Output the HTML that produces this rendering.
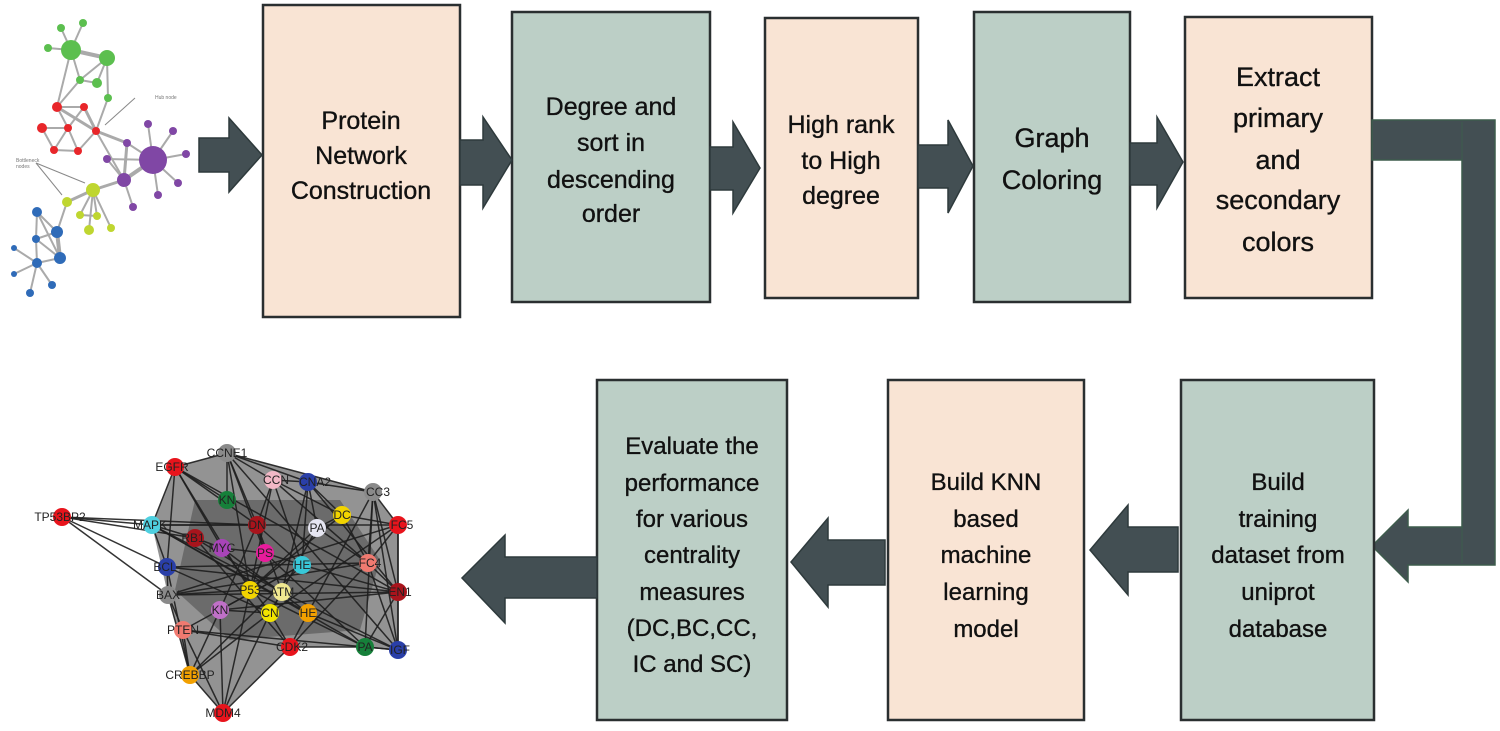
<!DOCTYPE html>
<html><head><meta charset="utf-8"><style>
html,body{margin:0;padding:0;background:#fff;}
svg{display:block;}
.t{font-family:"Liberation Sans",sans-serif;fill:#111;text-anchor:middle;stroke:#111;stroke-width:0.35;}
.a{fill:#434f53;stroke:#2e3a3c;stroke-width:1.5;}
.bx{stroke:#2a2f30;stroke-width:2.5;}
.pe{fill:#f9e4d4;}
.gr{fill:#bccfc6;}
.e1 line{stroke:#aaa;stroke-width:2;}
.e2 line{stroke:#1e1e1e;stroke-width:1.5;opacity:.9;}
.nl{font-family:"Liberation Sans",sans-serif;font-size:12px;fill:#222;text-anchor:middle;}
.nd circle{r:9;}
</style></head><body>
<svg width="1500" height="731" viewBox="0 0 1500 731" xmlns="http://www.w3.org/2000/svg">
<!-- top-left network -->
<g class="e1">
<line x1="71" y1="50" x2="107" y2="58" style="stroke-width:4"/>
<line x1="71" y1="50" x2="48" y2="48"/><line x1="71" y1="50" x2="61" y2="28"/><line x1="71" y1="50" x2="83" y2="23"/>
<line x1="71" y1="50" x2="80" y2="80"/><line x1="71" y1="50" x2="57" y2="107"/><line x1="107" y1="58" x2="80" y2="80"/>
<line x1="107" y1="58" x2="97" y2="83"/><line x1="107" y1="58" x2="108" y2="98"/><line x1="80" y1="80" x2="97" y2="83"/>
<line x1="108" y1="98" x2="96" y2="131"/><line x1="80" y1="80" x2="57" y2="107"/>
<line x1="57" y1="107" x2="84" y2="107"/><line x1="57" y1="107" x2="68" y2="128"/><line x1="57" y1="107" x2="96" y2="131" style="stroke-width:3"/>
<line x1="84" y1="107" x2="68" y2="128"/><line x1="84" y1="107" x2="96" y2="131" style="stroke-width:3"/>
<line x1="42" y1="128" x2="68" y2="128"/><line x1="42" y1="128" x2="54" y2="150"/><line x1="68" y1="128" x2="54" y2="150"/>
<line x1="68" y1="128" x2="78" y2="151"/><line x1="54" y1="150" x2="78" y2="151"/><line x1="96" y1="131" x2="78" y2="151"/>
<line x1="96" y1="131" x2="127" y2="143" style="stroke-width:3"/><line x1="96" y1="131" x2="124" y2="180"/>
<line x1="153" y1="160" x2="124" y2="180" style="stroke-width:4"/><line x1="153" y1="160" x2="148" y2="124"/>
<line x1="153" y1="160" x2="173" y2="131"/><line x1="153" y1="160" x2="186" y2="154"/><line x1="153" y1="160" x2="178" y2="183"/>
<line x1="153" y1="160" x2="158" y2="195"/><line x1="153" y1="160" x2="127" y2="143"/><line x1="153" y1="160" x2="107" y2="159"/>
<line x1="127" y1="143" x2="124" y2="180" style="stroke-width:3"/><line x1="107" y1="159" x2="124" y2="180"/>
<line x1="124" y1="180" x2="133" y2="207"/><line x1="124" y1="180" x2="93" y2="190" style="stroke-width:3"/>
<line x1="93" y1="190" x2="67" y2="202" style="stroke-width:3"/><line x1="93" y1="190" x2="80" y2="215"/><line x1="93" y1="190" x2="97" y2="216"/>
<line x1="93" y1="190" x2="89" y2="230"/><line x1="93" y1="190" x2="111" y2="228"/><line x1="80" y1="215" x2="97" y2="216"/>
<line x1="67" y1="202" x2="57" y2="232"/><line x1="57" y1="232" x2="37" y2="212"/><line x1="57" y1="232" x2="36" y2="239"/>
<line x1="57" y1="232" x2="60" y2="258" style="stroke-width:4"/><line x1="37" y1="212" x2="36" y2="239"/><line x1="37" y1="212" x2="60" y2="258"/>
<line x1="36" y1="239" x2="60" y2="258"/><line x1="36" y1="239" x2="37" y2="263"/><line x1="60" y1="258" x2="37" y2="263"/>
<line x1="37" y1="263" x2="14" y2="248"/><line x1="37" y1="263" x2="14" y2="274"/><line x1="37" y1="263" x2="30" y2="293"/>
<line x1="37" y1="263" x2="52" y2="285"/>
<line x1="105" y1="125" x2="135" y2="98" style="stroke-width:1;stroke:#888"/>
<line x1="36" y1="163" x2="85" y2="183" style="stroke-width:1;stroke:#888"/>
<line x1="36" y1="163" x2="62" y2="195" style="stroke-width:1;stroke:#888"/>
</g>
<g>
<circle cx="71" cy="50" r="10" fill="#5cbf4f"/><circle cx="107" cy="58" r="8" fill="#5cbf4f"/>
<circle cx="48" cy="48" r="4" fill="#5cbf4f"/><circle cx="61" cy="28" r="4" fill="#5cbf4f"/><circle cx="83" cy="23" r="4" fill="#5cbf4f"/>
<circle cx="80" cy="80" r="4" fill="#5cbf4f"/><circle cx="97" cy="83" r="5" fill="#5cbf4f"/><circle cx="108" cy="98" r="4" fill="#5cbf4f"/>
<circle cx="57" cy="107" r="5" fill="#e8262a"/><circle cx="84" cy="107" r="4" fill="#e8262a"/><circle cx="42" cy="128" r="5" fill="#e8262a"/>
<circle cx="68" cy="128" r="4" fill="#e8262a"/><circle cx="96" cy="131" r="4" fill="#e8262a"/><circle cx="54" cy="150" r="4" fill="#e8262a"/>
<circle cx="78" cy="151" r="4" fill="#e8262a"/>
<circle cx="153" cy="160" r="14" fill="#8047a5"/><circle cx="124" cy="180" r="7" fill="#8047a5"/><circle cx="127" cy="143" r="4" fill="#8047a5"/>
<circle cx="107" cy="159" r="4" fill="#8047a5"/><circle cx="148" cy="124" r="4" fill="#8047a5"/><circle cx="173" cy="131" r="4" fill="#8047a5"/>
<circle cx="186" cy="154" r="4" fill="#8047a5"/><circle cx="178" cy="183" r="4" fill="#8047a5"/><circle cx="158" cy="195" r="4" fill="#8047a5"/>
<circle cx="133" cy="207" r="4" fill="#8047a5"/>
<circle cx="93" cy="190" r="7" fill="#bfd630"/><circle cx="67" cy="202" r="5" fill="#bfd630"/><circle cx="80" cy="215" r="4" fill="#bfd630"/>
<circle cx="97" cy="216" r="4" fill="#bfd630"/><circle cx="89" cy="230" r="5" fill="#bfd630"/><circle cx="111" cy="228" r="4" fill="#bfd630"/>
<circle cx="37" cy="212" r="5" fill="#2f6bb8"/><circle cx="57" cy="232" r="6" fill="#2f6bb8"/><circle cx="36" cy="239" r="4" fill="#2f6bb8"/>
<circle cx="60" cy="258" r="6" fill="#2f6bb8"/><circle cx="37" cy="263" r="5" fill="#2f6bb8"/><circle cx="14" cy="248" r="3" fill="#2f6bb8"/>
<circle cx="14" cy="274" r="3" fill="#2f6bb8"/><circle cx="30" cy="293" r="4" fill="#2f6bb8"/><circle cx="52" cy="285" r="4" fill="#2f6bb8"/>
<text x="155" y="99" style="font-family:'Liberation Sans',sans-serif;font-size:5px;fill:#777">Hub node</text>
<text x="16" y="162" style="font-family:'Liberation Sans',sans-serif;font-size:5px;fill:#777">Bottleneck</text>
<text x="16" y="168" style="font-family:'Liberation Sans',sans-serif;font-size:5px;fill:#777">nodes</text>
</g>

<!-- top boxes -->
<rect class="bx pe" x="263" y="5" width="197" height="312"/>
<rect class="bx gr" x="512" y="12" width="198" height="290"/>
<rect class="bx pe" x="765" y="18" width="153" height="280"/>
<rect class="bx gr" x="974" y="12" width="156" height="290"/>
<rect class="bx pe" x="1185" y="17" width="187" height="281"/>
<g class="t" style="font-size:25px">
<text x="361" y="129">Protein</text><text x="361" y="164">Network</text><text x="361" y="199">Construction</text>
<text x="611" y="115">Degree and</text><text x="611" y="151">sort in</text><text x="611" y="188">descending</text><text x="611" y="222">order</text>
<text x="841" y="133">High rank</text><text x="841" y="169">to High</text><text x="841" y="204">degree</text>
<text x="1052" y="147" style="font-size:27px">Graph</text><text x="1052" y="189" style="font-size:27px">Coloring</text>
</g>
<g class="t" style="font-size:27px">
<text x="1278" y="86">Extract</text><text x="1278" y="127">primary</text><text x="1278" y="169">and</text><text x="1278" y="209">secondary</text><text x="1278" y="251">colors</text>
</g>

<!-- top arrows -->
<polygon class="a" points="199,138 229,138 229,118 262,155 229,192 229,172 199,172"/>
<polygon class="a" points="460,140 483,140 483,117 512,160 483,208 483,185 460,185"/>
<polygon class="a" points="710,147 733,147 733,122 760,168 733,213 733,190 710,190"/>
<polygon class="a" points="918,145 948,145 948,120 973,166 948,213 948,188 918,188"/>
<polygon class="a" points="1130,143 1157,143 1157,117 1183,162 1157,208 1157,185 1130,185"/>

<!-- right connector -->
<polygon points="1372,120 1495,120 1495,565 1408,565 1408,582 1372,546 1408,510 1408,527 1462,527 1462,160 1372,160" fill="#434f53" stroke="#3d5c4c" stroke-width="1.5"/>
<line x1="1462" y1="122" x2="1462" y2="563" stroke="#3d5c4c" stroke-width="1"/>

<!-- bottom boxes -->
<rect class="bx gr" x="1181" y="380" width="193" height="340"/>
<rect class="bx pe" x="888" y="380" width="196" height="340"/>
<rect class="bx gr" x="597" y="380" width="190" height="340"/>
<g class="t" style="font-size:24px">
<text x="1278" y="490">Build</text><text x="1278" y="527">training</text><text x="1278" y="563">dataset from</text><text x="1278" y="600">uniprot</text><text x="1278" y="637">database</text>
<text x="986" y="490">Build KNN</text><text x="986" y="527">based</text><text x="986" y="563">machine</text><text x="986" y="600">learning</text><text x="986" y="637">model</text>
<text x="692" y="454">Evaluate the</text><text x="692" y="491">performance</text><text x="692" y="527">for various</text><text x="692" y="563">centrality</text><text x="692" y="600">measures</text><text x="692" y="636">(DC,BC,CC,</text><text x="692" y="672">IC and SC)</text>
</g>

<!-- bottom arrows -->
<polygon class="a" points="1178,527 1128,527 1128,505 1090,550 1128,595 1128,572 1178,572"/>
<polygon class="a" points="885,540 828,540 828,518 791,562 828,607 828,585 885,585"/>
<polygon class="a" points="597,557 505,557 505,535 462,578 505,623 505,598 597,598"/>

<!-- bottom-left network -->
<polygon points="175,467 227,453 373,492 398,525 398,650 365,647 290,647 223,713 190,675 168,595 152,525" fill="#3a3a3a" opacity=".55"/>
<polygon points="195,500 340,500 380,560 360,630 230,640 175,590" fill="#222" opacity=".35"/>
<g class="e2">
<line x1="62" y1="517" x2="152" y2="525"/><line x1="62" y1="517" x2="167" y2="567"/><line x1="62" y1="517" x2="168" y2="595"/><line x1="62" y1="517" x2="195" y2="538"/>
<line x1="175" y1="467" x2="227" y2="453"/><line x1="175" y1="467" x2="152" y2="525"/><line x1="175" y1="467" x2="227" y2="500"/><line x1="175" y1="467" x2="222" y2="548"/>
<line x1="175" y1="467" x2="250" y2="590"/><line x1="175" y1="467" x2="257" y2="525"/><line x1="175" y1="467" x2="167" y2="567"/>
<line x1="227" y1="453" x2="273" y2="480"/><line x1="227" y1="453" x2="308" y2="482"/><line x1="227" y1="453" x2="227" y2="500"/><line x1="227" y1="453" x2="257" y2="525"/>
<line x1="227" y1="453" x2="265" y2="553"/><line x1="227" y1="453" x2="373" y2="492"/><line x1="227" y1="453" x2="250" y2="590"/>
<line x1="273" y1="480" x2="308" y2="482"/><line x1="273" y1="480" x2="342" y2="515"/><line x1="273" y1="480" x2="257" y2="525"/><line x1="273" y1="480" x2="302" y2="565"/>
<line x1="273" y1="480" x2="368" y2="563"/><line x1="273" y1="480" x2="250" y2="590"/>
<line x1="308" y1="482" x2="373" y2="492"/><line x1="308" y1="482" x2="342" y2="515"/><line x1="308" y1="482" x2="317" y2="528"/><line x1="308" y1="482" x2="302" y2="565"/>
<line x1="308" y1="482" x2="398" y2="592"/><line x1="308" y1="482" x2="282" y2="592"/>
<line x1="373" y1="492" x2="398" y2="525"/><line x1="373" y1="492" x2="368" y2="563"/><line x1="373" y1="492" x2="398" y2="592"/><line x1="373" y1="492" x2="398" y2="650"/>
<line x1="373" y1="492" x2="365" y2="647"/><line x1="373" y1="492" x2="308" y2="613"/>
<line x1="342" y1="515" x2="398" y2="525"/><line x1="342" y1="515" x2="317" y2="528"/><line x1="342" y1="515" x2="250" y2="590"/><line x1="342" y1="515" x2="368" y2="563"/>
<line x1="398" y1="525" x2="368" y2="563"/><line x1="398" y1="525" x2="398" y2="592"/><line x1="398" y1="525" x2="398" y2="650"/><line x1="398" y1="525" x2="270" y2="613"/>
<line x1="152" y1="525" x2="195" y2="538"/><line x1="152" y1="525" x2="257" y2="525"/><line x1="152" y1="525" x2="167" y2="567"/><line x1="152" y1="525" x2="282" y2="592"/>
<line x1="152" y1="525" x2="308" y2="613"/>
<line x1="257" y1="525" x2="265" y2="553"/><line x1="257" y1="525" x2="282" y2="592"/><line x1="257" y1="525" x2="220" y2="610"/><line x1="257" y1="525" x2="302" y2="565"/>
<line x1="317" y1="528" x2="368" y2="563"/><line x1="317" y1="528" x2="250" y2="590"/><line x1="317" y1="528" x2="270" y2="613"/>
<line x1="195" y1="538" x2="222" y2="548"/><line x1="195" y1="538" x2="282" y2="592"/><line x1="195" y1="538" x2="290" y2="647"/>
<line x1="222" y1="548" x2="265" y2="553"/><line x1="222" y1="548" x2="270" y2="613"/><line x1="222" y1="548" x2="308" y2="613"/>
<line x1="265" y1="553" x2="302" y2="565"/><line x1="265" y1="553" x2="250" y2="590"/><line x1="265" y1="553" x2="365" y2="647"/>
<line x1="302" y1="565" x2="220" y2="610"/><line x1="302" y1="565" x2="398" y2="592"/>
<line x1="368" y1="563" x2="398" y2="592"/><line x1="368" y1="563" x2="168" y2="595"/><line x1="368" y1="563" x2="290" y2="647"/>
<line x1="167" y1="567" x2="168" y2="595"/><line x1="167" y1="567" x2="368" y2="563"/><line x1="167" y1="567" x2="270" y2="613"/>
<line x1="398" y1="592" x2="398" y2="650"/><line x1="398" y1="592" x2="365" y2="647"/><line x1="398" y1="592" x2="168" y2="595"/><line x1="398" y1="592" x2="220" y2="610"/>
<line x1="168" y1="595" x2="183" y2="630"/><line x1="168" y1="595" x2="250" y2="590"/><line x1="168" y1="595" x2="398" y2="525"/>
<line x1="250" y1="590" x2="282" y2="592"/><line x1="250" y1="590" x2="365" y2="647"/><line x1="282" y1="592" x2="270" y2="613"/><line x1="282" y1="592" x2="398" y2="650"/>
<line x1="220" y1="610" x2="270" y2="613"/><line x1="220" y1="610" x2="190" y2="675"/><line x1="270" y1="613" x2="290" y2="647"/><line x1="308" y1="613" x2="290" y2="647"/>
<line x1="308" y1="613" x2="398" y2="650"/><line x1="183" y1="630" x2="190" y2="675"/><line x1="183" y1="630" x2="290" y2="647"/><line x1="183" y1="630" x2="223" y2="713"/>
<line x1="290" y1="647" x2="365" y2="647"/><line x1="365" y1="647" x2="398" y2="650"/><line x1="290" y1="647" x2="223" y2="713"/><line x1="190" y1="675" x2="223" y2="713"/>
<line x1="220" y1="610" x2="223" y2="713"/><line x1="270" y1="613" x2="223" y2="713"/><line x1="250" y1="590" x2="223" y2="713"/><line x1="168" y1="595" x2="190" y2="675"/>
<line x1="167" y1="567" x2="190" y2="675"/><line x1="183" y1="630" x2="302" y2="565"/><line x1="398" y1="650" x2="368" y2="563"/><line x1="190" y1="675" x2="302" y2="565"/>
<line x1="152" y1="525" x2="398" y2="525"/><line x1="175" y1="467" x2="398" y2="592"/><line x1="227" y1="453" x2="398" y2="650"/><line x1="62" y1="517" x2="257" y2="525"/>
<line x1="152" y1="525" x2="365" y2="647"/><line x1="167" y1="567" x2="398" y2="592"/><line x1="183" y1="630" x2="398" y2="650"/><line x1="190" y1="675" x2="270" y2="613"/>
</g>
<g class="nd">
<circle cx="62" cy="517" r="9" fill="#e8141c"/><circle cx="175" cy="467" r="9" fill="#e8141c"/><circle cx="227" cy="453" r="9" fill="#8a8a8a"/>
<circle cx="273" cy="480" r="9" fill="#f2b8c6"/><circle cx="308" cy="482" r="9" fill="#2a3fa8"/><circle cx="373" cy="492" r="9" fill="#8a8a8a"/>
<circle cx="227" cy="500" r="9" fill="#16803a"/><circle cx="342" cy="515" r="9" fill="#f2d400"/><circle cx="398" cy="525" r="9" fill="#e8141c"/>
<circle cx="152" cy="525" r="9" fill="#4fd0e0"/><circle cx="257" cy="525" r="9" fill="#a8141c"/><circle cx="317" cy="528" r="9" fill="#e6e6f2"/>
<circle cx="195" cy="538" r="9" fill="#a8141c"/><circle cx="222" cy="548" r="9" fill="#a844b8"/><circle cx="265" cy="553" r="9" fill="#e81c9c"/>
<circle cx="302" cy="565" r="9" fill="#38c8d8"/><circle cx="368" cy="563" r="9" fill="#f07a70"/><circle cx="167" cy="567" r="9" fill="#2a3fa8"/>
<circle cx="398" cy="592" r="9" fill="#a8141c"/><circle cx="168" cy="595" r="9" fill="#8a8a8a"/><circle cx="250" cy="590" r="9" fill="#f2d400"/>
<circle cx="282" cy="592" r="9" fill="#f0e890"/><circle cx="220" cy="610" r="9" fill="#c070c8"/><circle cx="270" cy="613" r="9" fill="#f2e400"/>
<circle cx="308" cy="613" r="9" fill="#f2a000"/><circle cx="183" cy="630" r="9" fill="#f07a70"/><circle cx="290" cy="647" r="9" fill="#e8141c"/>
<circle cx="365" cy="647" r="9" fill="#16803a"/><circle cx="398" cy="650" r="9" fill="#2a3fa8"/><circle cx="190" cy="675" r="9" fill="#f2a000"/>
<circle cx="223" cy="713" r="9" fill="#e8141c"/>
</g>
<g class="nl">
<text x="60" y="521">TP53BP2</text><text x="172" y="471">EGFR</text><text x="227" y="457">CCNE1</text><text x="276" y="484">CCN</text>
<text x="315" y="486">CNA2</text><text x="378" y="496">CC3</text><text x="227" y="504">KN</text><text x="342" y="519">DC</text><text x="402" y="529">FC5</text>
<text x="150" y="529">MAPK</text><text x="257" y="529">DN</text><text x="317" y="532">PA</text><text x="193" y="542">RB1</text><text x="222" y="552">MYC</text>
<text x="265" y="557">PS</text><text x="302" y="569">HE</text><text x="370" y="567">FC4</text><text x="165" y="571">BCL</text><text x="400" y="596">EN1</text>
<text x="168" y="599">BAX</text><text x="250" y="594">P53</text><text x="282" y="596">ATM</text><text x="220" y="614">KN</text><text x="270" y="617">CN</text>
<text x="308" y="617">HE</text><text x="183" y="634">PTEN</text><text x="292" y="651">CDK2</text><text x="365" y="651">PA</text><text x="400" y="654">IGF</text>
<text x="190" y="679">CREBBP</text><text x="223" y="717">MDM4</text>
</g>
</svg>
</body></html>
